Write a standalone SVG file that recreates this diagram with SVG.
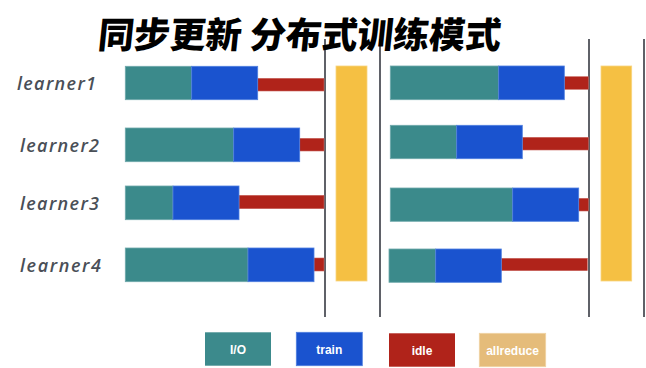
<svg xmlns="http://www.w3.org/2000/svg" width="646" height="368" viewBox="0 0 646 368">
<style>
.io{fill:#3b8a8b;stroke:#6fa9ab;stroke-width:0.8}
.tr{fill:#1a53cf;stroke:#4f7fe0;stroke-width:0.8}
.id{fill:#b0231a;stroke:#c9655e;stroke-width:0.6}
.ar{fill:#f5c043;stroke:#f8d580;stroke-width:0.8}
.sync{stroke:#5f6168;stroke-width:2}
.lbl{font-family:"Open Sans","DejaVu Sans",sans-serif;font-style:italic;font-weight:600;font-size:18px;fill:#4a4f57}
.lg{font-family:"Liberation Sans",Arial,sans-serif;font-weight:bold;font-size:12px;fill:#ffffff;text-anchor:middle}
.title{font-family:"Noto Sans CJK SC",sans-serif;font-weight:900;font-size:36px;fill:#000000}
</style>
<rect width="646" height="368" fill="#ffffff"/>
<g id="sync-lines">
<line class="sync" x1="325" y1="39" x2="325" y2="317"/>
<line class="sync" x1="380" y1="39" x2="380" y2="317"/>
<line class="sync" x1="589" y1="39" x2="589" y2="317"/>
<line class="sync" x1="644" y1="39" x2="644" y2="317"/>
</g>
<g id="title"><text class="title" x="97" y="48" textLength="403" transform="skewX(-6) translate(5,0)">同步更新 分布式训练模式</text></g>
<g id="learner1">
<text class="lbl" x="17" y="89.7" textLength="79">learner1</text>
<rect class="id" x="257.7" y="78.3" width="66.3" height="12.7"/>
<rect class="io" x="125.3" y="66.3" width="66.4" height="33.4"/>
<rect class="tr" x="191.7" y="66.3" width="66" height="33.4"/>
<rect class="id" x="564.3" y="76.7" width="24" height="12.6"/>
<rect class="io" x="390.3" y="66" width="108.4" height="33.7"/>
<rect class="tr" x="498.7" y="66" width="65.6" height="33.7"/>
</g>
<g id="learner2">
<text class="lbl" x="20" y="151.7" textLength="79">learner2</text>
<rect class="id" x="299.7" y="138.3" width="24.3" height="12.7"/>
<rect class="io" x="125.3" y="128" width="108.4" height="33.7"/>
<rect class="tr" x="233.7" y="128" width="66" height="33.7"/>
<rect class="id" x="522.3" y="137.3" width="66" height="12.7"/>
<rect class="io" x="390.3" y="125.3" width="66.4" height="33.4"/>
<rect class="tr" x="456.7" y="125.3" width="65.6" height="33.4"/>
</g>
<g id="learner3">
<text class="lbl" x="20" y="210" textLength="79">learner3</text>
<rect class="id" x="239" y="195.3" width="85" height="13.4"/>
<rect class="io" x="125.3" y="186" width="47.7" height="33.7"/>
<rect class="tr" x="173" y="186" width="66" height="33.7"/>
<rect class="id" x="578.7" y="198.3" width="9.6" height="12.7"/>
<rect class="io" x="390.3" y="188" width="122.4" height="33.3"/>
<rect class="tr" x="512.7" y="188" width="66" height="33.3"/>
</g>
<g id="learner4">
<text class="lbl" x="20" y="271.7" textLength="81">learner4</text>
<rect class="id" x="314" y="258" width="10" height="13"/>
<rect class="io" x="125.3" y="248" width="122.7" height="33.7"/>
<rect class="tr" x="248" y="248" width="66" height="33.7"/>
<rect class="id" x="501.3" y="258.3" width="86" height="12.4"/>
<rect class="io" x="389" y="249" width="46.7" height="33.3"/>
<rect class="tr" x="435.7" y="249" width="65.6" height="33.3"/>
</g>
<g id="allreduce1"><rect class="ar" x="336" y="66" width="31" height="215"/></g>
<g id="allreduce2"><rect class="ar" x="601" y="66" width="30.7" height="215"/></g>
<g id="legend">
<rect x="205" y="332.3" width="66" height="33.4" fill="#3c8a8c"/>
<text class="lg" x="238" y="354">I/O</text>
<rect x="296.3" y="332.3" width="66" height="33.4" fill="#1a53cf" stroke="#4f7fe0" stroke-width="0.8"/>
<text class="lg" x="329.3" y="353.5">train</text>
<rect x="389" y="333.3" width="66" height="33.4" fill="#b0231a"/>
<text class="lg" x="422" y="355">idle</text>
<rect x="479.3" y="333.3" width="66.4" height="33.4" fill="#e5bc7a" stroke="#f0d3a4" stroke-width="0.8"/>
<text class="lg" x="512.5" y="355">allreduce</text>
</g>
</svg>
